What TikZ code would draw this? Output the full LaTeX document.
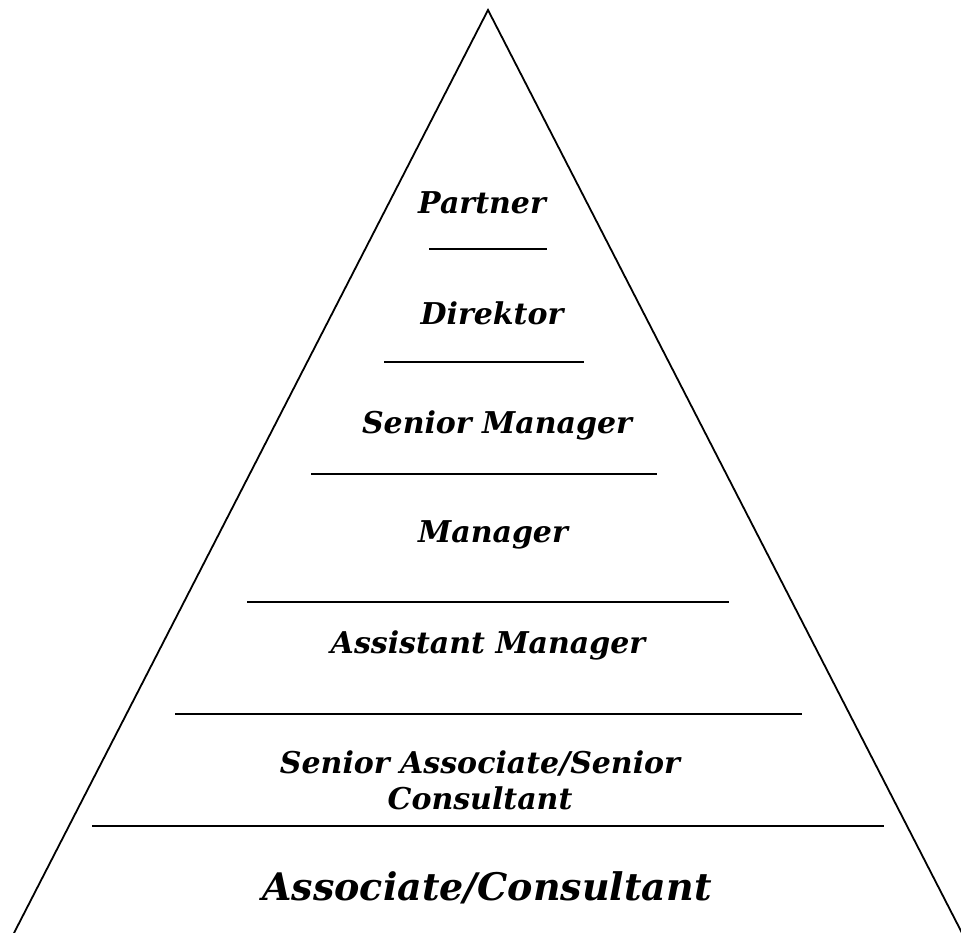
\documentclass[tikz,border=0pt]{standalone}
\usepackage{fontspec}
\setmainfont{DejaVu Serif}
\begin{document}
\begin{tikzpicture}[x=1pt,y=-1pt,
  rule/.style={line width=2pt},
  side/.style={line width=1.8pt},
  lbl/.style={font=\fontsize{30}{36}\selectfont\bfseries\itshape, inner sep=0pt, align=center},
  biglbl/.style={font=\fontsize{38}{44}\selectfont\bfseries\itshape, inner sep=0pt, align=center}]
\useasboundingbox (0,0) rectangle (961,933);
\clip (0,0) rectangle (961,933);
% triangle
\coordinate (apex) at (488,10);
\coordinate (bl) at (14,933);
\coordinate (br) at (962,933);
\draw[side] (bl) -- (apex) -- (br);
% separators
\coordinate (l1a) at (429,249); \coordinate (l1b) at (547,249);
\coordinate (l2a) at (384,362); \coordinate (l2b) at (584,362);
\coordinate (l3a) at (311,474); \coordinate (l3b) at (657,474);
\coordinate (l4a) at (247,602); \coordinate (l4b) at (729,602);
\coordinate (l5a) at (175,714); \coordinate (l5b) at (802,714);
\coordinate (l6a) at (92,826);  \coordinate (l6b) at (884,826);
\draw[rule] (l1a) -- (l1b);
\draw[rule] (l2a) -- (l2b);
\draw[rule] (l3a) -- (l3b);
\draw[rule] (l4a) -- (l4b);
\draw[rule] (l5a) -- (l5b);
\draw[rule] (l6a) -- (l6b);
% labels
\node[lbl] (partner) at (482,203) {Partner};
\node[lbl] (direktor) at (492,313) {Direktor};
\node[lbl] (srmgr) at (497,425) {Senior Manager};
\node[lbl] (mgr) at (493,535) {Manager};
\node[lbl] (amgr) at (488,645) {Assistant Manager};
\node[lbl] (srassoc) at (480,780) {Senior Associate/Senior\\Consultant};
\node[biglbl] (assoc) at (487,888) {Associate/Consultant};
\end{tikzpicture}
\end{document}
